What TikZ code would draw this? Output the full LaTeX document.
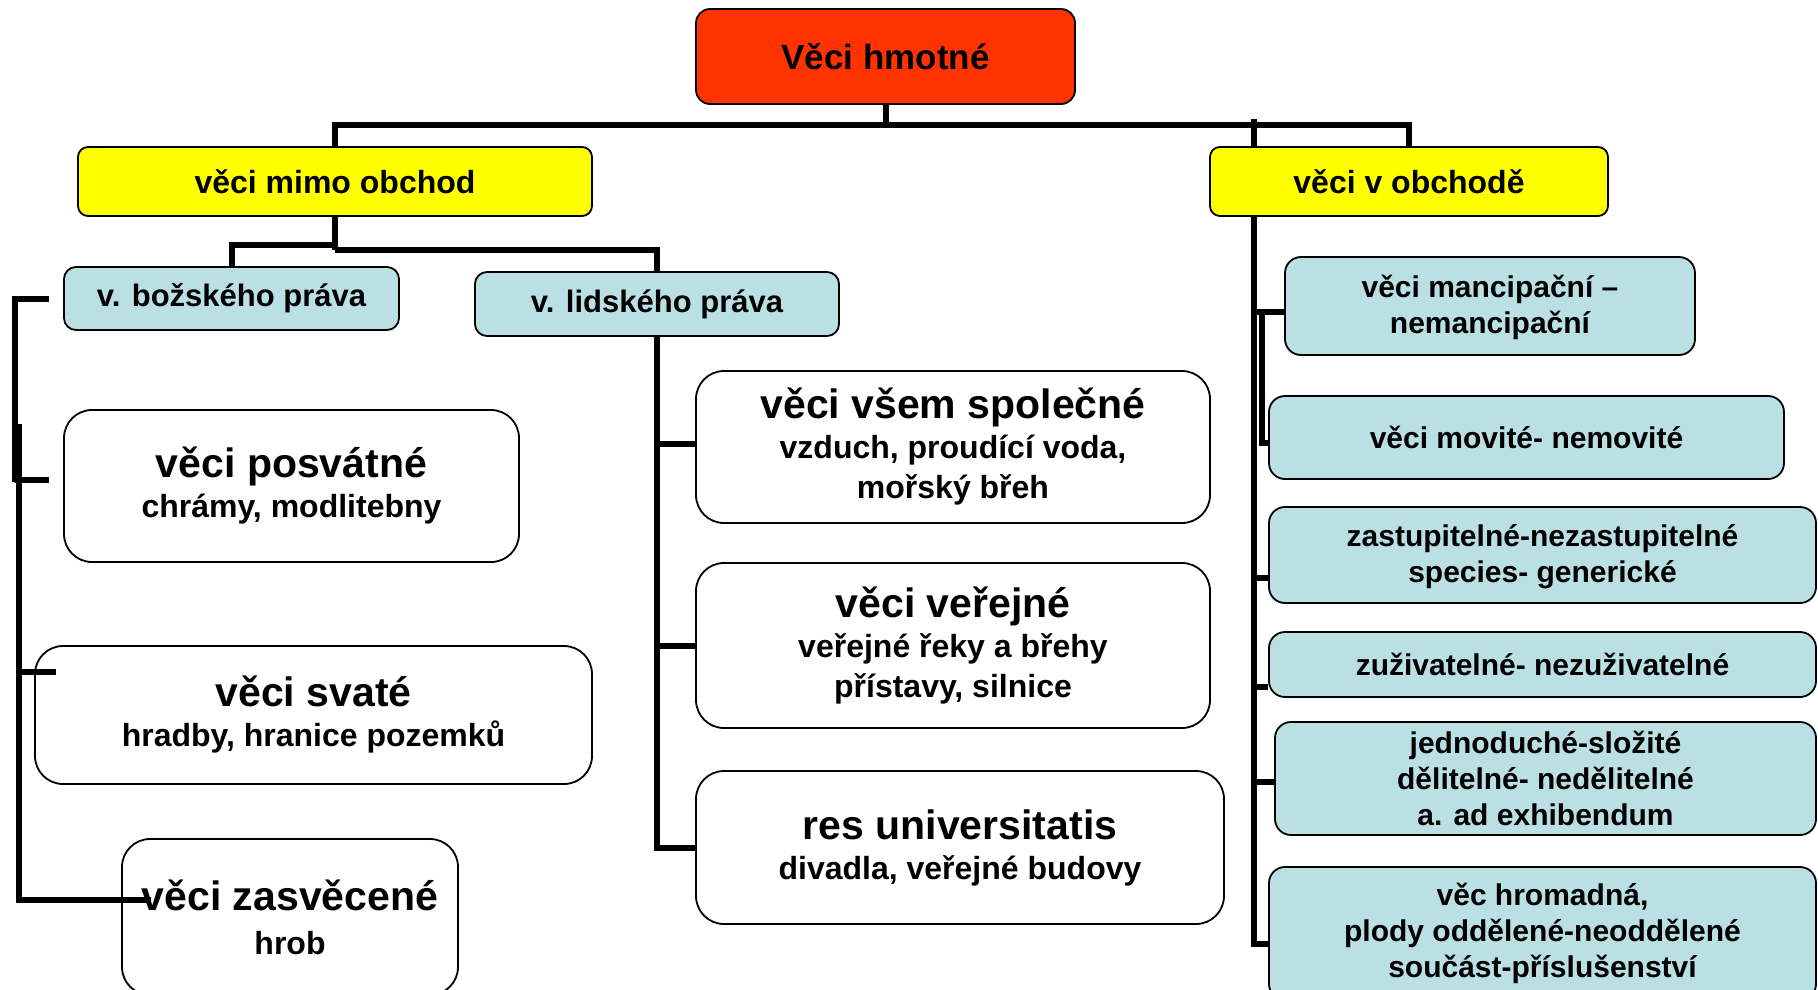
\documentclass[tikz,border=0pt]{standalone}
\usepackage{fontspec}
\setmainfont{Liberation Sans}
\usetikzlibrary{backgrounds}
\definecolor{rootred}{HTML}{FF3300}
\definecolor{ylw}{HTML}{FFFF00}
\definecolor{lblue}{HTML}{BBE0E3}
\begin{document}
\begin{tikzpicture}[x=1pt,y=-1pt,
  box/.style={draw=black, line width=1.8pt, align=center, inner sep=0pt, font=\bfseries},
  rootbox/.style={box, fill=rootred, rounded corners=14pt, font=\bfseries\fontsize{35}{42}\selectfont},
  ybox/.style={box, fill=ylw, rounded corners=10pt, font=\bfseries\fontsize{32}{38}\selectfont},
  bbox/.style={box, fill=lblue, rounded corners=12pt, font=\bfseries\fontsize{31}{37}\selectfont},
  rbox/.style={box, fill=lblue, rounded corners=16pt, font=\bfseries\fontsize{30}{36}\selectfont},
  wbox/.style={box, fill=white, rounded corners=28pt, font=\bfseries\fontsize{32}{40}\selectfont},
  conn/.style={draw=black, line width=6pt, line join=miter}]
\useasboundingbox (0,0) rectangle (1818,989);

% nodes
\node[rootbox, minimum width=379pt, minimum height=95pt] (root) at (885.5,56.5) {Věci hmotné};
\node[ybox, minimum width=514pt, minimum height=69pt] (ylL) at (335,181.5) {věci mimo obchod};
\node[ybox, minimum width=398pt, minimum height=69pt] (ylR) at (1409,181.5) {věci v obchodě};
\node[bbox, minimum width=335pt, minimum height=63pt] (bozs) at (231.5,298.5) {v. božského práva};
\node[bbox, minimum width=364pt, minimum height=64pt] (lids) at (657,304) {v. lidského práva};

\node[wbox, minimum width=455pt, minimum height=152pt] (posv) at (291.5,486)
  {{\fontsize{41}{44}\selectfont věci posvátné}\\[0pt]chrámy, modlitebny};
\node[wbox, minimum width=557pt, minimum height=138pt] (svat) at (313.5,715)
  {{\fontsize{41}{44}\selectfont věci svaté}\\[0pt]hradby, hranice pozemků};
\node[wbox, minimum width=336pt, minimum height=156pt] (zasv) at (290,917)
  {{\fontsize{41}{44}\selectfont věci zasvěcené}\\[4pt]hrob};

\node[wbox, minimum width=514pt, minimum height=152pt] (vsem) at (953,447)
  {{\fontsize{41}{44}\selectfont věci všem společné}\\[0pt]vzduch, proudící voda,\\mořský břeh};
\node[wbox, minimum width=514pt, minimum height=165pt] (vere) at (953,645.5)
  {{\fontsize{41}{44}\selectfont věci veřejné}\\[0pt]veřejné řeky a břehy\\přístavy, silnice};
\node[wbox, minimum width=528pt, minimum height=153pt] (resu) at (960,847.5)
  {{\fontsize{41}{44}\selectfont res universitatis}\\[0pt]divadla, veřejné budovy};

\node[rbox, minimum width=410pt, minimum height=98pt, text depth=4pt] (manc) at (1490,306) {věci mancipační --\\nemancipační};
\node[rbox, minimum width=515pt, minimum height=83pt] (movi) at (1526.5,437.5) {věci movité- nemovité};
\node[rbox, minimum width=547pt, minimum height=96pt, text depth=4pt] (zast) at (1542.5,555) {zastupitelné-nezastupitelné\\species- generické};
\node[rbox, minimum width=547pt, minimum height=65pt] (zuzi) at (1542.5,664.5) {zuživatelné- nezuživatelné};
\node[rbox, minimum width=541pt, minimum height=113pt] (jedn) at (1545.5,778.5) {jednoduché-složité\\dělitelné- nedělitelné\\a. ad exhibendum};
\node[rbox, minimum width=547pt, minimum height=133pt] (hrom) at (1542.5,933.5) {věc hromadná,\\plody oddělené-neoddělené\\součást-příslušenství};

% connectors behind the boxes
\begin{pgfonlayer}{background}
  \coordinate (barL) at (335,125);
  \coordinate (barR) at (1409,125);
  \coordinate (trTop) at (1254,119);
  \coordinate (trBot) at (1254,944);
  \coordinate (splitL) at (335,245);
  \coordinate (splitR) at (335,250);
  \draw[conn] (root.south) -- (root.south |- barL);
  \draw[conn] (ylL.north) |- (barR) -- (ylR.north);
  \draw[conn] (trTop) -- (trBot) -- (hrom.west |- trBot);
  \draw[conn] (1254,312) -- (manc.west |- 0,312);
  \draw[conn] (1262,312) -- (1262,443) -- (movi.west |- 0,443);
  \draw[conn] (1254,578) -- (zast.west |- 0,578);
  \draw[conn] (1254,687) -- (zuzi.west |- 0,687);
  \draw[conn] (1254,782) -- (jedn.west |- 0,782);
  \draw[conn] (ylL.south) -- (splitR);
  \draw[conn] (splitL) -| (bozs.north);
  \draw[conn] (splitR) -| (lids.north);
  \draw[conn] (lids.south) |- (resu.west);
  \draw[conn] (lids.south |- 0,444) -- (vsem.west |- 0,444);
  \draw[conn] (lids.south |- vere.west) -- (vere.west);
\end{pgfonlayer}

% left bracket (drawn over the boxes)
\coordinate (brA1) at (49,299);
\coordinate (brA2) at (49,480);
\coordinate (brB1) at (19,424);
\coordinate (brB2) at (151,900);
\draw[conn] (brA1) -- (15,299) -- (15,482) -- (15,480) -- (brA2);
\draw[conn] (brB1) -- (19,900) -- (brB2);
\draw[conn] (19,672) -- (56,672);
\end{tikzpicture}
\end{document}
